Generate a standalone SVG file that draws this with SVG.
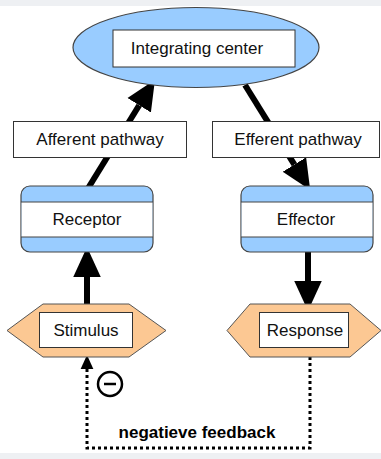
<svg xmlns="http://www.w3.org/2000/svg" width="381" height="459" viewBox="0 0 381 459">
<style>
.lbl{font-family:"Liberation Sans",Arial,sans-serif;font-size:17px;fill:#111;text-anchor:middle}
.bold{font-weight:bold;fill:#000}
.box{fill:#fff;stroke:#333;stroke-width:1}
.blue{fill:#99ccff;stroke:#444;stroke-width:1.2}
.hex{fill:#fcc893;stroke:#555;stroke-width:1}
.thick{stroke:#000;stroke-width:6;fill:none;marker-end:url(#big)}
.dot{stroke:#000;stroke-width:3;fill:none;stroke-dasharray:3 3}
</style>
<defs>
<marker id="big" markerUnits="userSpaceOnUse" markerWidth="30" markerHeight="30" refX="0" refY="11" orient="auto" viewBox="0 0 24 22">
<path d="M0,0 L24,11 L0,22 z" fill="#000"/>
</marker>
<marker id="small" markerUnits="userSpaceOnUse" markerWidth="14" markerHeight="14" refX="0" refY="5" orient="auto" viewBox="0 0 11 10">
<path d="M0,0 L11,5 L0,10 z" fill="#000"/>
</marker>
</defs>
<rect x="0" y="0" width="381" height="6" fill="#eef0f3"/>
<rect x="0" y="453" width="381" height="6" fill="#eef0f3"/>
<g id="connectors">
<path class="thick" d="M87,190 L139.2,105.3"/>
<path class="thick" d="M245,85 L294.4,164.6"/>
<path class="thick" d="M308,252 L308,281"/>
<path class="thick" d="M87,304 L87,277"/>
<path class="dot" d="M310,357 V448 H87 V369" marker-end="url(#small)"/>
</g>
<g id="integrating-center">
<ellipse class="blue" cx="196" cy="47.5" rx="123" ry="40"/>
<rect class="box" x="113" y="30" width="182" height="37"/>
<text class="lbl" x="197" y="54">Integrating center</text>
</g>
<g id="afferent-pathway">
<rect class="box" x="13.5" y="121.5" width="173" height="36"/>
<text class="lbl" x="100" y="145">Afferent pathway</text>
</g>
<g id="efferent-pathway">
<rect class="box" x="212.5" y="121.5" width="167" height="36"/>
<text class="lbl" x="298" y="145">Efferent pathway</text>
</g>
<g id="receptor">
<rect class="blue" x="21" y="186" width="132" height="66" rx="9"/>
<rect x="21.6" y="202" width="130.8" height="35" fill="#fff" stroke="none"/>
<path d="M21,202 H153 M21,237 H153" stroke="#444" stroke-width="1.2"/>
<text class="lbl" x="87" y="225">Receptor</text>
</g>
<g id="effector">
<rect class="blue" x="241" y="186" width="132" height="66" rx="9"/>
<rect x="241.6" y="202" width="130.8" height="35" fill="#fff" stroke="none"/>
<path d="M241,202 H373 M241,237 H373" stroke="#444" stroke-width="1.2"/>
<text class="lbl" x="306" y="225">Effector</text>
</g>
<g id="stimulus">
<polygon class="hex" points="7,330.5 43,304 129,304 166,330.5 129,357 43,357"/>
<rect class="box" x="39.5" y="312.5" width="93" height="35"/>
<text class="lbl" x="86" y="336">Stimulus</text>
</g>
<g id="response">
<polygon class="hex" points="227,330.5 250,304 350,304 381,330.5 350,357 250,357"/>
<rect class="box" x="259.5" y="312.5" width="89" height="35"/>
<text class="lbl" x="305" y="336">Response</text>
</g>
<g id="negative-sign">
<circle cx="110" cy="384" r="12" fill="none" stroke="#000" stroke-width="2.5"/>
<path d="M104,384 H116" stroke="#000" stroke-width="2.5"/>
</g>
<text class="lbl bold" x="197" y="438">negatieve feedback</text>
</svg>
